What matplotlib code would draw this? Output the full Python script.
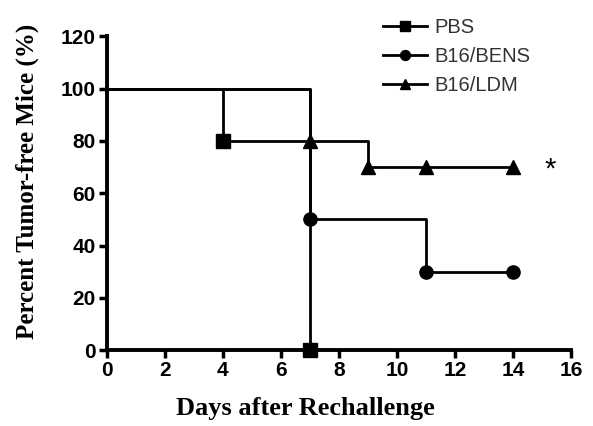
import matplotlib
matplotlib.use("Agg")
import matplotlib.pyplot as plt

days_pbs = [0, 4, 7]
surv_pbs = [100, 80, 0]
mark_pbs_x = [4, 7]
mark_pbs_y = [80, 0]

days_bens = [0, 7, 11, 14]
surv_bens = [100, 50, 30, 30]
mark_bens_x = [7, 11, 14]
mark_bens_y = [50, 30, 30]

days_ldm = [0, 7, 9, 14]
surv_ldm = [100, 80, 70, 70]
mark_ldm_x = [7, 9, 11, 14]
mark_ldm_y = [80, 70, 70, 70]

xticks = list(range(0, 17, 2))
yticks = list(range(0, 121, 20))

fig = plt.figure(figsize=(5.93, 4.26), dpi=100)
ax = fig.add_axes([0.180, 0.178, 0.783, 0.737])

lw = 2.0
series = [
    (days_pbs, surv_pbs, mark_pbs_x, mark_pbs_y, 's', 'PBS', 9.5),
    (days_bens, surv_bens, mark_bens_x, mark_bens_y, 'o', 'B16/BENS', 9.5),
    (days_ldm, surv_ldm, mark_ldm_x, mark_ldm_y, '^', 'B16/LDM', 10.5),
]
handles = []
for dx, dy, mx, my, m, lab, ms in series:
    ax.step(dx, dy, where='post', color='black', lw=lw, solid_capstyle='butt')
    ax.plot(mx, my, linestyle='none', marker=m, color='black', ms=ms, clip_on=False, zorder=5)
    h, = ax.plot([], [], color='black', lw=lw, marker=m, ms=ms * 0.75, label=lab)
    handles.append(h)

ax.text(15.27, 69, '*', fontsize=21, ha='center', va='center', family='Liberation Sans')

ax.set_xlim(0, 16)
ax.set_ylim(0, 120)
ax.set_xticks(xticks)
ax.set_yticks(yticks)
for s in ['top', 'right']:
    ax.spines[s].set_visible(False)
for s in ['left', 'bottom']:
    ax.spines[s].set_linewidth(2.8)
ax.tick_params(width=2.5, length=6, direction='out', labelsize=15, pad=2)
for lbl in ax.get_xticklabels() + ax.get_yticklabels():
    lbl.set_fontfamily('Liberation Sans')
    lbl.set_fontweight('bold')

ax.set_xlabel('Days after Rechallenge', fontsize=19, fontweight='bold', family='Liberation Serif')
ax.set_ylabel('Percent Tumor-free Mice (%)', fontsize=18, fontweight='bold', family='Liberation Serif')
ax.xaxis.set_label_coords(0.427, -0.15)
ax.yaxis.set_label_coords(-0.145, 0.538)

leg = fig.legend(handles=handles, loc='upper left', bbox_to_anchor=(383 / 593, 1 - 18 / 426),
                 bbox_transform=fig.transFigure, frameon=False,
                 prop={'family': 'Liberation Sans', 'size': 14.5}, handlelength=2.2,
                 handletextpad=0.35, labelspacing=0.5, borderaxespad=0, borderpad=0)
for t in leg.get_texts():
    t.set_color('#333333')

fig.savefig('out.png', dpi=100)
